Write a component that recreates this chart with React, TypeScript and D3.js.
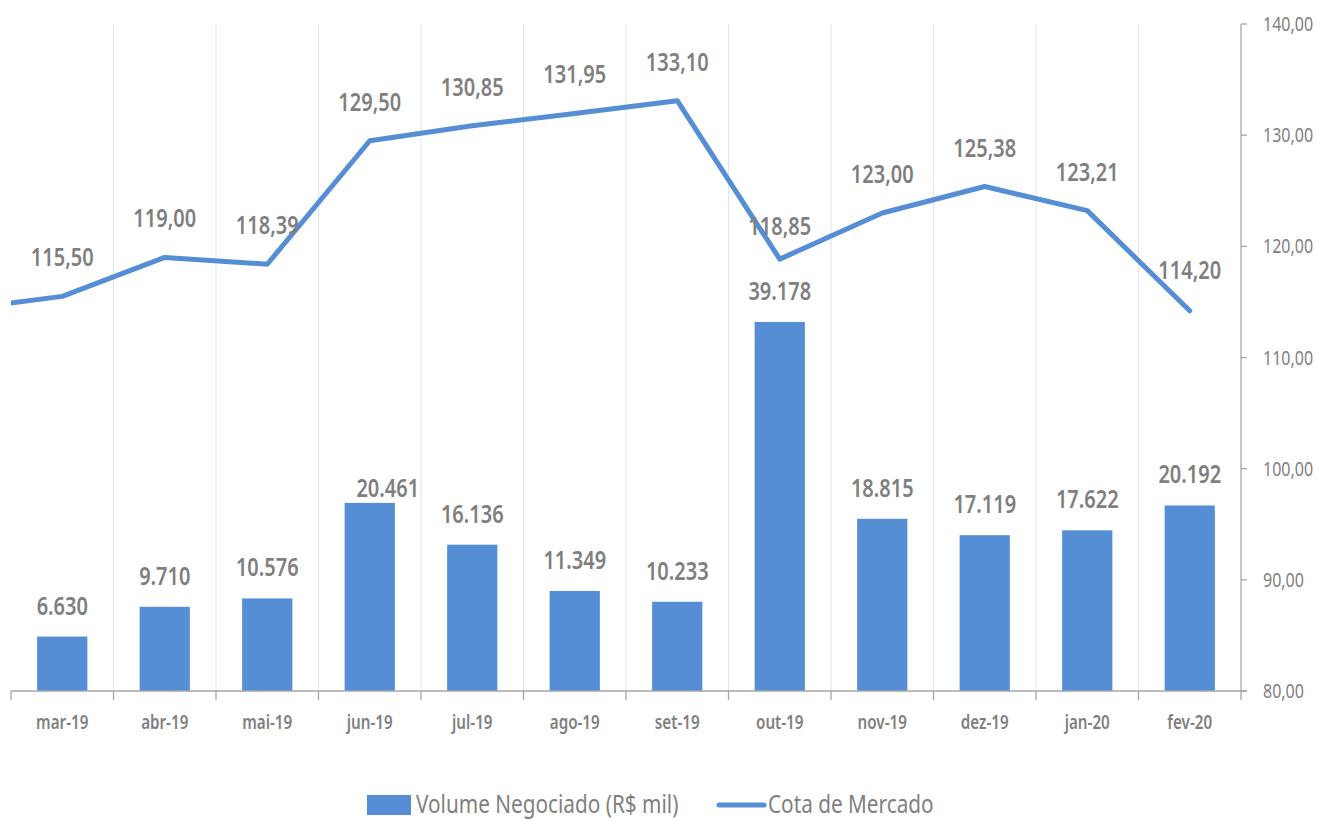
import React from "react";
import * as d3 from "d3";

const categories = ["mar-19", "abr-19", "mai-19", "jun-19", "jul-19", "ago-19", "set-19", "out-19", "nov-19", "dez-19", "jan-20", "fev-20"];
const volume = [6630, 9710, 10576, 20461, 16136, 11349, 10233, 39178, 18815, 17119, 17622, 20192];
const cota = [115.5, 119.0, 118.39, 129.5, 130.85, 131.95, 133.1, 118.85, 123.0, 125.38, 123.21, 114.2];
// previous month (fev-19), only its segment is visible, cut at the plot edge
const cotaAnterior = 114.3;
const rightTicks = [80, 90, 100, 110, 120, 130, 140];
const seriesNames = ["Volume Negociado (R$ mil)", "Cota de Mercado"];

const W = 1318;
const H = 820;
const M = { left: 11, right: 1241, top: 24, bottom: 691 };
const BLUE = "#558ed5";
const GRAY = "#7f7f7f";
const GRID = "#dbe4f0";
const AXIS = "#a6a6a6";
const SX = 0.8;
const FONT = "'Noto Sans', 'Open Sans', sans-serif";

const locale = d3.formatLocale({ decimal: ",", thousands: ".", grouping: [3], currency: ["R$", ""] });
const fmtVol = locale.format(",d");
const fmtCota = locale.format(",.2f");

function T({ x, y, children, size, weight = 400, anchor = "middle", fill = GRAY, dy = 0, sx = SX }: any) {
  return (
    <text
      transform={`translate(${x},${y}) scale(${sx},1)`}
      textAnchor={anchor}
      dy={dy}
      fontSize={size}
      fontWeight={weight}
      fill={fill}
      fontFamily={FONT}
    >
      {children}
    </text>
  );
}

export default function App() {
  const x = d3
    .scaleBand<string>()
    .domain(categories)
    .range([M.left, M.right])
    .paddingInner(0.51)
    .paddingOuter(0.255);
  const step = x.step();
  const bw = x.bandwidth();
  const cx = (c: string) => (x(c) as number) + bw / 2;
  const yL = d3.scaleLinear().domain([1000, 70000]).range([M.bottom, M.top]);
  const yR = d3.scaleLinear().domain([80, 140]).range([M.bottom, M.top]);

  const pts: [number, number][] = [[cx(categories[0]) - step, yR(cotaAnterior)]];
  categories.forEach((c, i) => pts.push([cx(c), yR(cota[i])]));
  const lineGen = d3.line();

  const boundaries = d3.range(categories.length + 1).map((k) => M.left + k * step);

  // manual label nudges (jun-19 volume label was moved in the original)
  const volNudge: Record<number, [number, number]> = { 3: [18, 16] };
  const cotaNudge: Record<number, [number, number]> = { 7: [0, 6], 11: [0, -2] };

  return (
    <svg width={W} height={H} style={{ position: "absolute", left: 0, top: 0, background: "#fff" }}>
      <defs>
        <clipPath id="plotClip">
          <rect x={M.left} y={0} width={M.right - M.left} height={H} />
        </clipPath>
      </defs>
      {/* vertical gridlines */}
      {boundaries.slice(1, -1).map((bx, i) => (
        <line key={i} x1={bx} x2={bx} y1={M.top} y2={M.bottom} stroke={GRID} strokeWidth={1} />
      ))}
      {/* bars */}
      {categories.map((c, i) => (
        <rect key={c} x={x(c)} y={yL(volume[i])} width={bw} height={M.bottom - yL(volume[i])} fill={BLUE} />
      ))}
      {/* x axis */}
      <line x1={M.left} x2={M.right + 6} y1={M.bottom} y2={M.bottom} stroke={AXIS} strokeWidth={1.3} />
      {boundaries.map((bx, i) => (
        <line key={i} x1={bx} x2={bx} y1={M.bottom} y2={M.bottom + 9} stroke={AXIS} strokeWidth={1.3} />
      ))}
      {categories.map((c) => (
        <T key={c} x={cx(c)} y={729} size={19} weight={600}>
          {c}
        </T>
      ))}
      {/* right axis */}
      <line x1={M.right} x2={M.right} y1={M.top} y2={M.bottom} stroke={AXIS} strokeWidth={1.3} />
      {rightTicks.map((t) => (
        <g key={t}>
          <line x1={M.right} x2={M.right + 6} y1={yR(t)} y2={yR(t)} stroke={AXIS} strokeWidth={1.3} />
          <T x={1263} y={yR(t)} dy="0.35em" size={20} anchor="start">
            {fmtCota(t)}
          </T>
        </g>
      ))}
      {/* line */}
      <path
        d={lineGen(pts) as string}
        fill="none"
        stroke={BLUE}
        strokeWidth={5}
        strokeLinejoin="round"
        strokeLinecap="round"
        clipPath="url(#plotClip)"
      />
      {/* bar labels */}
      {categories.map((c, i) => {
        const n = volNudge[i] || [0, 0];
        return (
          <T key={c} x={cx(c) + n[0]} y={yL(volume[i]) - 22 + n[1]} size={25} weight={600}>
            {fmtVol(volume[i])}
          </T>
        );
      })}
      {/* line labels */}
      {categories.map((c, i) => {
        const n = cotaNudge[i] || [0, 0];
        return (
          <T key={c} x={cx(c) + n[0]} y={yR(cota[i]) - 30 + n[1]} size={25} weight={600}>
            {fmtCota(cota[i])}
          </T>
        );
      })}
      {/* legend */}
      <rect x={367} y={795} width={44} height={20} fill={BLUE} />
      <T x={416} y={804} dy="0.35em" size={25} anchor="start" sx={0.83}>
        {seriesNames[0]}
      </T>
      <line x1={719} x2={764} y1={805} y2={805} stroke={BLUE} strokeWidth={5} strokeLinecap="round" />
      <T x={768} y={804} dy="0.35em" size={25} anchor="start" sx={0.83}>
        {seriesNames[1]}
      </T>
    </svg>
  );
}
